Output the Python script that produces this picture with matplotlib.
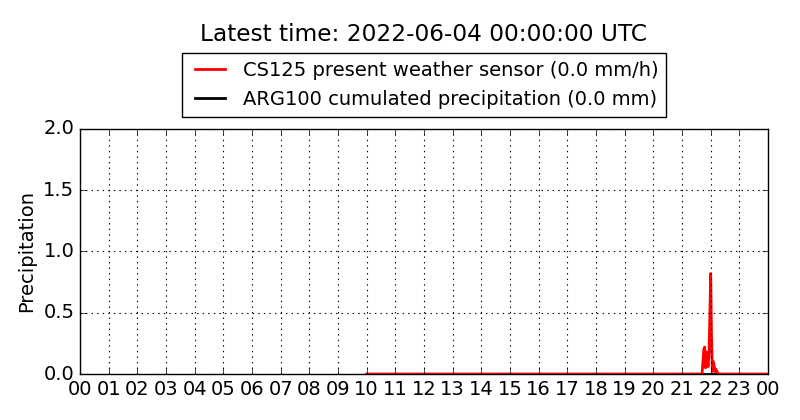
# precipitation of the last day: present weather sensor vs rain gauge

import numpy as np
import matplotlib
matplotlib.use('Agg')
from matplotlib import pyplot as plt

plt.style.use('classic')

hour_labels = ['%02d' % h for h in range(24)] + ['00']

# CS125 present weather sensor, mm/h
cs125_hours = [10.0, 21.70, 21.73, 21.76, 21.79, 21.82, 21.85, 21.88, 21.91, 21.94, 21.97,
               22.00, 22.03, 22.06, 22.09, 22.12, 22.15, 22.18, 22.22, 22.26, 24.0]
cs125_rate  = [0.0, 0.0, 0.10, 0.20, 0.22, 0.05, 0.18, 0.12, 0.06, 0.16, 0.45,
               0.82, 0.30, 0.02, 0.10, 0.07, 0.02, 0.04, 0.02, 0.0, 0.0]

# ARG100 cumulated precipitation, mm
arg_hours = [10.0, 24.0]
arg_cum   = [0.0, 0.0]

fig1 = plt.figure(figsize=(8, 4.2), dpi=100, facecolor='white')
ax1 = fig1.add_axes([0.1, 0.1095, 0.86, 0.5835])
ax1.set_facecolor('white')

ax1.plot(arg_hours, arg_cum, color='k', lw=2, zorder=1,
         label='ARG100 cumulated precipitation (0.0 mm)')
ax1.plot(cs125_hours, cs125_rate, color='r', lw=2, zorder=2,
         label='CS125 present weather sensor (0.0 mm/h)')

ax1.axis([0, 24, 0, 2.0])
ax1.set_xticks(np.arange(25))
ax1.set_xticklabels(hour_labels)
ax1.set_yticks([0, 0.5, 1.0, 1.5, 2.0])
ax1.tick_params(labelsize=14)
ax1.set_ylabel('Precipitation', size=14)
ax1.grid(True, color='k', linestyle=':', lw=0.8)

h, l = ax1.get_legend_handles_labels()
leg = ax1.legend(h[::-1], l[::-1], loc='lower center', bbox_to_anchor=(0.5, 1.01),
                 fontsize=14, fancybox=False, framealpha=1, handlelength=2.15,
                 handletextpad=0.6, borderpad=0.4, labelspacing=0.5)
leg.get_frame().set_edgecolor('k')

fig1.text(0.53, 0.917, 'Latest time: 2022-06-04 00:00:00 UTC', size=16.75,
          ha='center', va='center')

fig1.savefig('out.png', dpi=100, facecolor='white')
